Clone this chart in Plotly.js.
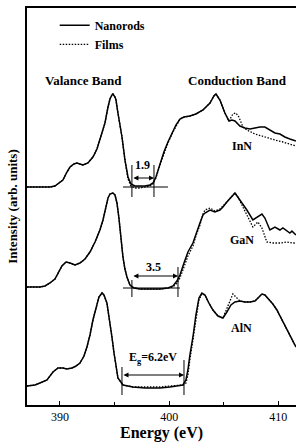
<!DOCTYPE html>
<html>
<head>
<meta charset="utf-8">
<script src="https://cdn.plot.ly/plotly-3.0.1.min.js"></script>
<style>html,body{margin:0;padding:0;background:#fff;}</style>
</head>
<body>
<div id="chart" style="width:296px;height:443px;"></div>
<script>
// ---- Data (energy in eV, intensity in arb. units incl. vertical offset) ----
const innRodE = [386.98,388.17,389.08,389.54,390.00,390.27,390.64,390.92,391.28,391.56,391.83,392.11,392.56,393.02,393.39,393.66,393.94,394.12,394.40,394.58,394.76,394.85,395.04,395.13,395.31,395.49,395.68,395.95,396.23,396.50,396.87,397.33,397.78,398.24,398.52,398.79,399.16,399.52,399.89,400.26,400.62,400.99,401.36,401.90,402.45,403.10,403.74,404.10,404.29,404.65,405.11,405.48,405.75,406.03,406.48,406.94,407.40,407.86,408.32,408.77,409.23,409.69,410.15,410.60,411.06,411.61];
const innRodI = [21.8,21.8,21.8,21.9,22.3,22.5,23.3,23.8,24.1,24.2,24.1,24.0,24.2,24.8,25.6,26.5,27.6,28.2,29.8,30.6,31.0,31.1,30.8,30.5,29.2,28.0,26.8,24.5,22.8,22.1,21.9,21.9,21.9,22.0,22.2,22.8,24.1,25.3,26.3,27.2,28.0,28.6,28.8,28.9,29.1,29.5,30.2,30.9,31.1,30.5,29.2,28.4,28.5,28.4,27.9,27.7,27.6,27.7,27.8,27.8,27.5,27.2,27.1,26.8,26.6,26.4];
const innFilmE = [386.98,388.17,389.08,389.54,390.00,390.27,390.64,390.92,391.28,391.56,391.83,392.11,392.56,393.02,393.39,393.66,393.94,394.12,394.40,394.58,394.76,394.85,395.04,395.13,395.31,395.49,395.68,395.95,396.23,396.50,396.87,397.33,397.78,398.24,398.52,398.79,399.16,399.52,399.89,400.26,400.62,400.99,401.36,401.90,402.45,403.10,403.74,404.10,404.29,404.65,405.11,405.48,405.84,406.12,406.39,406.76,407.12,407.86,408.50,409.04,409.69,410.42,411.06,411.61];
const innFilmI = [21.8,21.8,21.8,21.9,22.3,22.5,23.3,23.8,24.1,24.2,24.1,24.0,24.2,24.8,25.6,26.5,27.6,28.2,29.8,30.6,31.0,31.1,30.8,30.5,29.2,28.0,26.8,24.5,22.6,21.9,21.7,21.7,21.8,21.9,22.1,22.7,24.0,25.2,26.2,27.1,27.9,28.6,28.8,28.9,29.1,29.5,30.2,30.9,31.1,30.5,29.2,28.4,29.1,29.2,28.8,27.8,27.5,27.1,26.9,26.7,26.5,26.3,26.1,25.9];

const ganRodE = [386.98,388.17,388.63,389.08,389.54,389.82,390.18,390.55,390.92,391.37,391.83,392.29,392.75,393.21,393.66,393.94,394.21,394.40,394.58,394.85,395.04,395.22,395.40,395.59,395.77,395.95,396.14,396.41,396.78,397.33,398.24,399.16,399.89,400.35,400.71,400.99,401.36,401.72,402.18,402.45,402.82,403.10,403.28,403.74,404.19,404.65,404.93,405.29,405.66,406.03,406.48,407.12,407.67,408.13,408.50,408.77,408.95,409.23,409.69,410.15,410.42,410.79,411.06,411.25,411.61];
const ganRodI = [11.8,11.8,11.9,12.2,12.6,13.2,13.9,14.3,14.2,14.0,14.2,14.6,15.3,16.3,17.5,18.5,19.7,20.7,21.1,21.2,21.0,20.2,18.7,16.5,14.8,13.6,12.8,12.0,11.7,11.6,11.6,11.6,11.7,11.9,12.4,13.0,14.2,15.3,16.2,17.1,18.2,19.0,19.2,19.5,19.3,19.5,19.8,20.3,20.8,21.2,20.5,19.5,18.5,18.8,19.1,18.7,18.2,17.5,17.8,17.5,17.7,17.4,17.2,17.4,17.0];
const ganFilmE = [386.98,388.17,388.63,389.08,389.54,389.82,390.18,390.55,390.92,391.37,391.83,392.29,392.75,393.21,393.66,393.94,394.21,394.40,394.58,394.85,395.04,395.22,395.40,395.59,395.77,395.95,396.14,396.41,396.78,397.33,398.24,399.16,399.89,400.35,400.71,400.99,401.36,401.72,402.18,402.45,402.82,403.10,403.28,403.74,404.19,404.65,404.93,405.29,405.66,406.03,406.30,406.76,407.40,407.67,408.13,408.50,408.95,409.50,410.15,410.79,411.25,411.61];
const ganFilmI = [11.8,11.8,11.9,12.2,12.6,13.2,13.9,14.3,14.2,14.0,14.2,14.6,15.3,16.3,17.5,18.5,19.7,20.7,21.1,21.2,21.0,20.2,18.7,16.5,14.8,13.6,12.8,12.0,11.7,11.6,11.6,11.6,11.7,11.8,12.2,12.7,13.8,14.9,15.9,16.9,18.0,19.1,19.5,19.7,19.4,19.6,19.9,20.3,20.8,21.2,20.8,19.8,18.5,17.8,18.3,17.7,16.3,16.2,16.2,16.3,16.2,16.2];

const alnRodE = [386.98,387.71,388.17,388.81,389.36,389.82,390.27,390.64,391.10,391.47,391.83,392.20,392.47,392.75,393.02,393.30,393.57,393.85,394.03,394.30,394.58,394.76,394.95,395.13,395.31,395.77,396.68,397.78,399.16,400.07,400.81,401.26,401.54,401.72,401.90,402.18,402.45,402.73,403.00,403.28,403.64,404.01,404.47,404.93,405.29,405.66,406.03,406.48,406.94,407.40,407.86,408.13,408.50,408.77,409.13,409.50,409.87,410.33,410.79,411.25,411.61];
const alnRodI = [1.9,2.0,2.2,2.5,3.3,3.7,3.7,3.6,3.7,3.9,4.2,4.9,5.8,7.0,8.5,9.8,10.8,11.2,11.0,10.2,8.3,6.8,5.2,3.8,2.7,2.0,1.8,1.7,1.7,1.8,1.9,2.0,2.5,3.5,5.0,6.8,9.0,10.7,11.2,11.0,10.2,9.5,8.9,8.7,9.3,10.0,10.3,10.4,10.3,10.3,10.4,10.7,11.1,11.0,10.6,10.1,9.5,8.5,7.5,6.5,5.8];
const alnFilmE = [386.98,387.71,388.17,388.81,389.36,389.82,390.27,390.64,391.10,391.47,391.83,392.20,392.47,392.75,393.02,393.30,393.57,393.85,394.03,394.30,394.58,394.76,394.95,395.13,395.31,395.77,396.68,397.78,399.16,400.07,400.81,401.26,401.54,401.72,401.90,402.18,402.45,402.73,403.00,403.28,403.64,404.01,404.47,404.93,405.38,405.84,406.21,406.48,406.94,407.40,407.86,408.13,408.50,408.77,409.13,409.50,409.87,410.33,410.79,411.25,411.61];
const alnFilmI = [1.9,2.0,2.2,2.5,3.3,3.7,3.7,3.6,3.7,3.9,4.2,4.9,5.8,7.0,8.5,9.8,10.8,11.2,11.0,10.2,8.3,6.8,5.2,3.8,2.7,2.0,1.8,1.8,1.8,1.9,2.0,2.0,2.2,3.0,4.5,6.5,8.7,10.5,11.1,11.0,10.2,9.5,8.9,8.7,9.9,11.1,10.7,10.4,10.3,10.3,10.4,10.7,11.1,11.0,10.6,10.1,9.5,8.5,7.5,6.5,5.8];

// Band-gap markers: [left edge, right edge] in eV, arrow level, label
const gapNames   = ['InN','GaN','AlN'];
const gapLeft    = [396.59, 396.59, 395.68];
const gapRight   = [398.61, 400.81, 401.36];
const gapArrowI  = [22.7, 12.9, 3.0];
const gapLabels  = ['1.9', '3.5', 'E<sub>g</sub>=6.2eV'];
const gapLabelE  = [397.55, 398.55, 398.55];
const gapLabelI  = [24.0, 13.8, 4.7];
const gapLeftTop = [24.0, 12.5, 3.8];
const gapRightTop= [24.0, 13.8, 4.5];
const gapBottom  = [20.8, 10.8, 1.0];
const baseLineI  = [21.8, 11.7];
const baseLineE0 = [395.77, 395.77];
const baseLineE1 = [399.89, 400.99];
const sampleLabelE = [406.67, 406.67, 406.67];
const sampleLabelI = [25.9, 16.5, 7.7];

const serif = 'Liberation Serif';
const black = '#000';

const traces = [
  {x: innRodE, y: innRodI, name: 'Nanorods', legendgroup:'rod', showlegend:true},
  {x: innFilmE, y: innFilmI, name: 'Films', legendgroup:'film', showlegend:true, dash:'1.5px,1.5px'},
  {x: ganRodE, y: ganRodI, name: 'Nanorods', legendgroup:'rod', showlegend:false},
  {x: ganFilmE, y: ganFilmI, name: 'Films', legendgroup:'film', showlegend:false, dash:'1.5px,1.5px'},
  {x: alnRodE, y: alnRodI, name: 'Nanorods', legendgroup:'rod', showlegend:false},
  {x: alnFilmE, y: alnFilmI, name: 'Films', legendgroup:'film', showlegend:false, dash:'1.5px,1.5px'}
].map(t => ({
  type:'scatter', mode:'lines', x:t.x, y:t.y, name:t.name,
  legendgroup:t.legendgroup, showlegend:t.showlegend,
  line:{color:black, width: t.dash ? 1.3 : 1.5, dash: t.dash || 'solid'},
  hoverinfo:'skip'
}));

const shapes = [];
const annotations = [];
for (let i = 0; i < gapNames.length; i++) {
  shapes.push({type:'line', xref:'x', yref:'y', x0:gapLeft[i], x1:gapLeft[i], y0:gapBottom[i], y1:gapLeftTop[i], line:{color:black, width:1}});
  shapes.push({type:'line', xref:'x', yref:'y', x0:gapRight[i], x1:gapRight[i], y0:gapBottom[i], y1:gapRightTop[i], line:{color:black, width:1}});
  annotations.push({x:gapRight[i], y:gapArrowI[i], ax:gapLeft[i], ay:gapArrowI[i], xref:'x', yref:'y', axref:'x', ayref:'y',
    text:'', showarrow:true, arrowhead:2, startarrowhead:2, arrowside:'end+start', arrowsize:1, arrowwidth:1, arrowcolor:black, standoff:0, startstandoff:0});
  annotations.push({x:gapLabelE[i], y:gapLabelI[i], xref:'x', yref:'y', text:gapLabels[i], showarrow:false,
    font:{family:serif, size:12, color:black, weight:'bold'}});
  annotations.push({x:sampleLabelE[i], y:sampleLabelI[i], xref:'x', yref:'y', text:gapNames[i], showarrow:false,
    font:{family:serif, size:12, color:black, weight:'bold'}});
}
for (let i = 0; i < baseLineI.length; i++) {
  shapes.push({type:'line', xref:'x', yref:'y', x0:baseLineE0[i], x1:baseLineE1[i], y0:baseLineI[i], y1:baseLineI[i], line:{color:black, width:1}});
}
annotations.push({x:392.2, y:32.5, xref:'x', yref:'y', text:'Valance Band', showarrow:false, font:{family:serif, size:13, color:black, weight:'bold'}});
annotations.push({x:406.3, y:32.5, xref:'x', yref:'y', text:'Conduction Band', showarrow:false, font:{family:serif, size:13, color:black, weight:'bold'}});

const layout = {
  width:296, height:443,
  margin:{l:27, r:0, t:8, b:38},
  paper_bgcolor:'#fff', plot_bgcolor:'#fff',
  font:{family:serif, color:black},
  showlegend:true,
  legend:{x:0.103, y:0.993, xanchor:'left', yanchor:'top', bgcolor:'rgba(0,0,0,0)', borderwidth:0,
    font:{family:serif, size:12, color:black, weight:'bold'}, tracegroupgap:0, itemwidth:30},
  xaxis:{range:[386.98, 411.62], showline:true, linewidth:2, linecolor:black, mirror:true,
    ticks:'inside', ticklen:4, tickwidth:1, tickcolor:black, tickvals:[390,400,410],
    minor:{tickvals:[395,405], ticks:'inside', ticklen:3, tickwidth:1, tickcolor:black},
    showgrid:false, zeroline:false, automargin:false,
    tickfont:{family:serif, size:12, color:black},
    title:{text:'Energy (eV)', font:{family:serif, size:16, color:black, weight:'bold'}, standoff:0}},
  yaxis:{range:[0, 39.7], showline:true, linewidth:2, linecolor:black, mirror:false,
    ticks:'', showticklabels:false, showgrid:false, zeroline:false, automargin:false,
    title:{text:'Intensity (arb. units)', font:{family:serif, size:13, color:black, weight:'bold'}, standoff:4}},
  shapes: shapes,
  annotations: annotations
};

Plotly.newPlot('chart', traces, layout, {displayModeBar:false, staticPlot:true});
</script>
</body>
</html>
